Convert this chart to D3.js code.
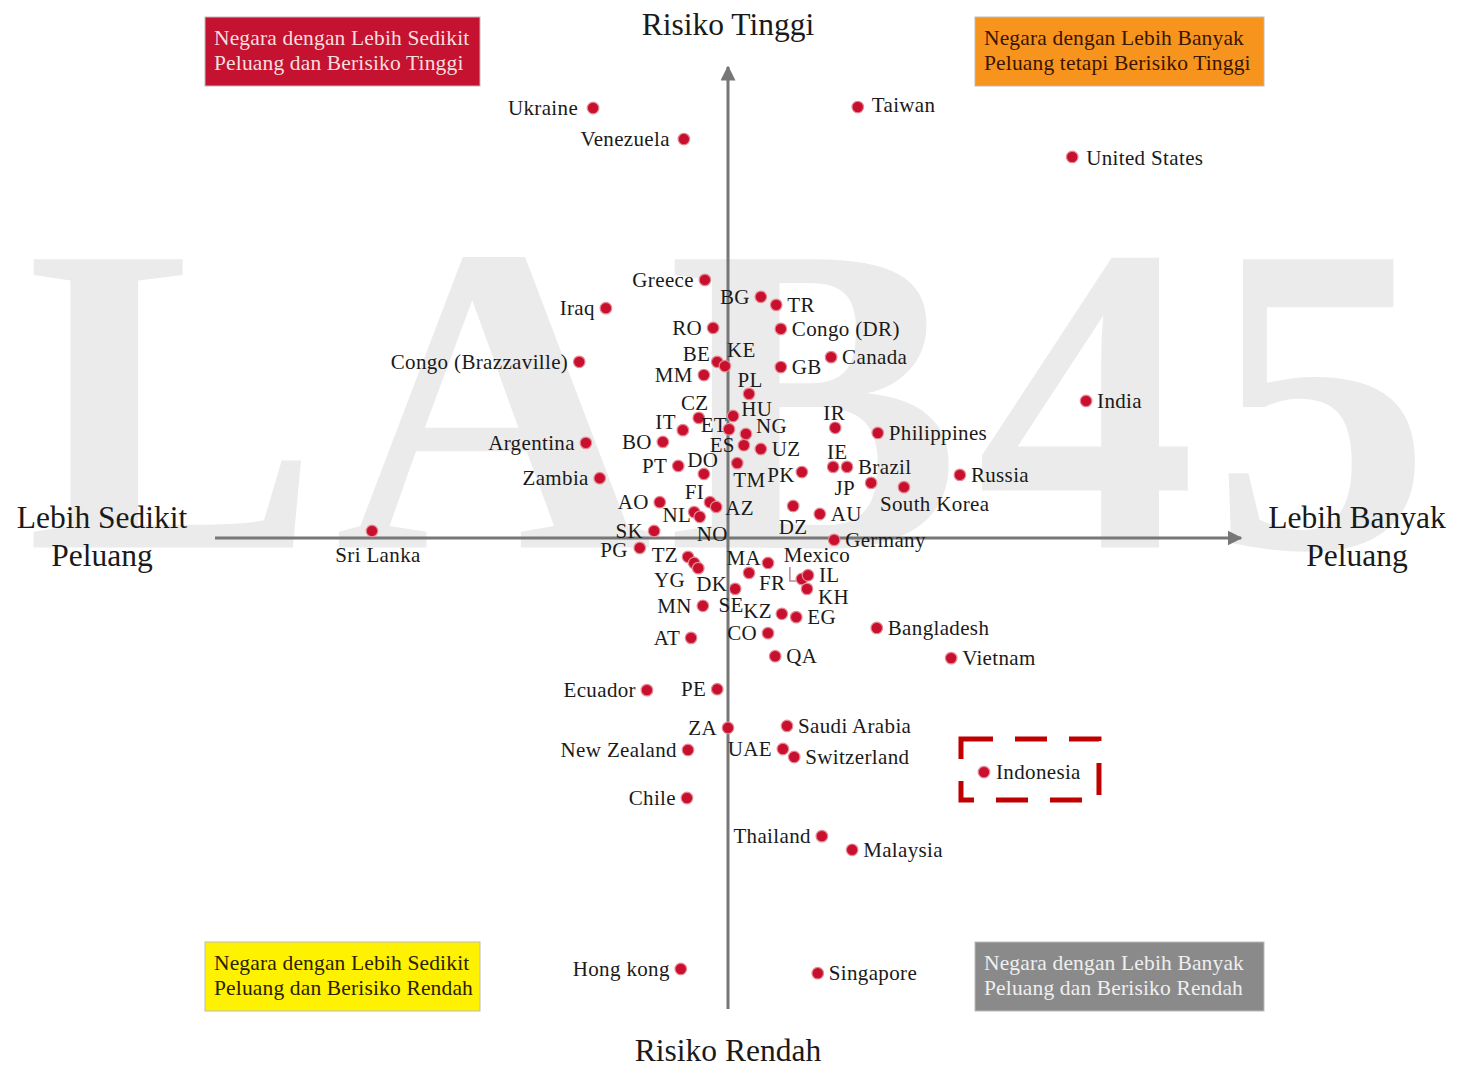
<!DOCTYPE html>
<html><head><meta charset="utf-8">
<script src="https://cdn.jsdelivr.net/npm/d3@7"></script>
<style>body{margin:0;background:#fff}svg{display:block}</style>
</head><body>
<script>
// ---- DATA ----
const countries = ["Ukraine","Venezuela","Taiwan","United States","Greece","Iraq","BG","TR","RO","Congo (DR)","BE","KE","Canada","GB","MM","PL","Congo (Brazzaville)","India","CZ","HU","IT","ET","NG","IR","Philippines","Argentina","BO","ES","UZ","IE","Brazil","PT","DO","TM","PK","Russia","Zambia","JP","South Korea","FI","AO","AZ","NL","NO","DZ","AU","SK","Sri Lanka","Germany","PG","TZ","YG","DK","MA","FR","Mexico","IL","KH","SE","MN","KZ","EG","Bangladesh","CO","AT","Vietnam","QA","Ecuador","PE","ZA","Saudi Arabia","UAE","Switzerland","New Zealand","Indonesia","Chile","Thailand","Malaysia","Hong kong","Singapore"];
// opportunity (x): negative = fewer opportunities, positive = more
const opportunity = [-2.63,-0.86,2.53,6.71,-0.45,-2.38,0.64,0.94,-0.29,1.03,-0.21,-0.06,2.01,1.03,-0.47,0.41,-2.90,6.98,-0.57,0.10,-0.88,0.02,0.35,2.09,2.92,-2.77,-1.27,0.31,0.64,2.05,2.32,-0.97,-0.47,0.18,1.44,4.52,-2.50,2.79,3.43,-0.35,-1.33,-0.23,-0.66,-0.55,1.27,1.79,-1.44,-6.94,2.07,-1.72,-0.78,-0.66,-0.58,0.78,0.41,1.44,1.56,1.54,0.14,-0.49,1.05,1.33,2.90,0.78,-0.72,4.35,0.92,-1.58,-0.21,0.00,1.15,1.07,1.29,-0.78,4.99,-0.80,1.83,2.42,-0.92,1.75];
// risk (y): positive = higher risk, negative = lower risk
const risk = [9.13,8.47,9.15,8.09,5.48,4.88,5.12,4.95,4.46,4.44,3.74,3.65,3.84,3.63,3.46,3.06,3.74,2.91,2.55,2.59,2.29,2.31,2.21,2.34,2.23,2.02,2.04,1.97,1.89,1.51,1.51,1.53,1.36,1.59,1.40,1.34,1.27,1.17,1.08,0.76,0.76,0.66,0.55,0.45,0.68,0.51,0.15,0.15,-0.04,-0.21,-0.40,-0.53,-0.64,-0.53,-0.74,-0.87,-0.79,-1.08,-1.08,-1.44,-1.61,-1.68,-1.91,-2.02,-2.12,-2.55,-2.51,-3.23,-3.21,-4.03,-3.99,-4.48,-4.65,-4.50,-4.97,-5.52,-6.33,-6.62,-9.15,-9.24];
// countries whose label sits on the left of the dot by default
const leftLabelled = ["Ukraine","Venezuela","Greece","Iraq","BG","RO","MM","Congo (Brazzaville)","Argentina","BO","ES","PT","Zambia","AO","SK","PG","MN","CO","AT","Ecuador","PE","ZA","UAE","New Zealand","Chile","Thailand","Hong kong"];
const axisTitles = {top:"Risiko Tinggi", bottom:"Risiko Rendah", left:["Lebih Sedikit","Peluang"], right:["Lebih Banyak","Peluang"]};
const quadrantTitles = [
  ["Negara dengan Lebih Sedikit","Peluang dan Berisiko Tinggi"],
  ["Negara dengan Lebih Banyak","Peluang tetapi Berisiko Tinggi"],
  ["Negara dengan Lebih Sedikit","Peluang dan Berisiko Rendah"],
  ["Negara dengan Lebih Banyak","Peluang dan Berisiko Rendah"]
];
const highlighted = "Indonesia";
const watermark = "LAB45";

// ---- LAYOUT (label offsets in px: dx, dy, anchor) ----
const labelOffsets = {
  "Ukraine":[-15,0,"end"],"Venezuela":[-14,0,"end"],"Taiwan":[14,-2,"start"],"United States":[14,1,"start"],
  "BE":[-7,-8,"end"],"KE":[2,-16,"start"],"PL":[1,-14,"middle"],"CZ":[-4,-15,"middle"],"HU":[8,-7,"start"],
  "IT":[-7,-8,"end"],"ET":[-2,-4,"end"],"NG":[10,-8,"start"],"IR":[-1,-15,"middle"],"ES":[-9,0,"end"],
  "IE":[4,-15,"middle"],"DO":[-1,-14,"middle"],"TM":[-4,17,"start"],"PK":[-7,3,"end"],"JP":[-16,5,"end"],
  "South Korea":[-24,17,"start"],"FI":[-6,-10,"end"],"AZ":[9,1,"start"],"NL":[-3,3,"end"],"NO":[-3,17,"start"],
  "DZ":[0,21,"middle"],"Sri Lanka":[6,24,"middle"],"PG":[-12,2,"end"],"TZ":[-10,-2,"end"],"YG":[-9,17,"end"],
  "DK":[-2,16,"start"],"MA":[-7,-5,"end"],"Mexico":[-18,-24,"start"],"KH":[11,8,"start"],"FR":[10,10,"start"],
  "SE":[-4,16,"middle"],"KZ":[-10,-3,"end"],"Indonesia":[12,0,"start"]
};

const W = 1461, H = 1074;
const x = d3.scaleLinear().domain([-10,10]).range([215,1241]);
const y = d3.scaleLinear().domain([-10,10]).range([1009,67]);
const FONT = "'Liberation Serif','DejaVu Serif',serif";

const svg = d3.select("body").append("svg").attr("width",W).attr("height",H);

// watermark
svg.append("text").text(watermark)
  .attr("x",26).attr("y",y(-0.2))
  .attr("textLength",1405).attr("lengthAdjust","spacing")
  .attr("font-family",FONT).attr("font-weight","bold").attr("font-size",440)
  .attr("fill","#ebebeb");

// axes
const defs = svg.append("defs");
defs.append("marker").attr("id","arr").attr("viewBox","0 0 10 10").attr("refX",9).attr("refY",5)
  .attr("markerWidth",5).attr("markerHeight",5).attr("markerUnits","strokeWidth").attr("orient","auto")
  .append("path").attr("d","M0,0L10,5L0,10Z").attr("fill","#777");
svg.append("line").attr("x1",x(-10)).attr("x2",x(10)).attr("y1",y(0)).attr("y2",y(0))
  .attr("stroke","#777").attr("stroke-width",3).attr("marker-end","url(#arr)");
svg.append("line").attr("x1",x(0)).attr("x2",x(0)).attr("y1",y(-10)).attr("y2",y(10))
  .attr("stroke","#777").attr("stroke-width",3).attr("marker-end","url(#arr)");

// axis titles
const TS = 31.5;
svg.append("text").text(axisTitles.top).attr("x",x(0)).attr("y",35).attr("text-anchor","middle")
  .attr("font-family",FONT).attr("font-size",TS).attr("fill","#1a1a1a");
svg.append("text").text(axisTitles.bottom).attr("x",x(0)).attr("y",1061).attr("text-anchor","middle")
  .attr("font-family",FONT).attr("font-size",TS).attr("fill","#1a1a1a");
axisTitles.left.forEach((t,i)=>svg.append("text").text(t).attr("x",102).attr("y",y(0)-10+i*38)
  .attr("text-anchor","middle").attr("font-family",FONT).attr("font-size",TS).attr("fill","#1a1a1a"));
axisTitles.right.forEach((t,i)=>svg.append("text").text(t).attr("x",1357).attr("y",y(0)-10+i*38)
  .attr("text-anchor","middle").attr("font-family",FONT).attr("font-size",TS).attr("fill","#1a1a1a"));

// quadrant boxes
const boxStyle = [
  {x:205,y:17,fill:"#c41230",text:"#f6dede"},
  {x:975,y:17,fill:"#f7941d",text:"#3a1500"},
  {x:205,y:942,fill:"#fff200",text:"#2a2200"},
  {x:975,y:942,fill:"#8a8a8a",text:"#efefef"}
];
quadrantTitles.forEach((lines,i)=>{
  const b = boxStyle[i];
  const g = svg.append("g");
  g.append("rect").attr("x",b.x).attr("y",b.y).attr("width",i%2?289:275).attr("height",69)
    .attr("fill",b.fill).attr("stroke","#bbb").attr("stroke-width",1);
  lines.forEach((t,j)=>g.append("text").text(t).attr("x",b.x+9).attr("y",b.y+28+j*25)
    .attr("font-family",FONT).attr("font-size",21.5).attr("letter-spacing",0.15).attr("fill",b.text));
});

// data
const data = countries.map((c,i)=>({name:c, ox:opportunity[i], ry:risk[i]}));

// Mexico connector
const mex = data.find(d=>d.name==="Mexico");
svg.append("path").attr("d",`M${x(mex.ox)-12},${y(mex.ry)-12}V${y(mex.ry)+2}H${x(mex.ox)-2}`)
  .attr("fill","none").attr("stroke","#b58a98").attr("stroke-width",1.5);

// highlight box
const ind = data.find(d=>d.name===highlighted);
svg.append("rect").attr("x",x(ind.ox)-23).attr("y",y(ind.ry)-33).attr("width",138).attr("height",61)
  .attr("fill","none").attr("stroke","#c00000").attr("stroke-width",5).attr("stroke-dasharray","32,22");

// dots
svg.append("g").selectAll("circle").data(data).join("circle")
  .attr("cx",d=>x(d.ox)).attr("cy",d=>y(d.ry)).attr("r",5.8)
  .attr("fill","#c8102e").attr("stroke","#e58a95").attr("stroke-width",1.2);

// labels
svg.append("g").selectAll("text").data(data).join("text")
  .text(d=>d.name)
  .attr("x",d=>{const o=labelOffsets[d.name]; return x(d.ox)+(o?o[0]:(leftLabelled.includes(d.name)?-11:11));})
  .attr("y",d=>{const o=labelOffsets[d.name]; return y(d.ry)+(o?o[1]:0);})
  .attr("text-anchor",d=>{const o=labelOffsets[d.name]; return o?o[2]:(leftLabelled.includes(d.name)?"end":"start");})
  .attr("dominant-baseline","central")
  .attr("font-family",FONT).attr("font-size",21).attr("letter-spacing",0.35).attr("fill","#1a1a1a");
</script>
</body></html>
